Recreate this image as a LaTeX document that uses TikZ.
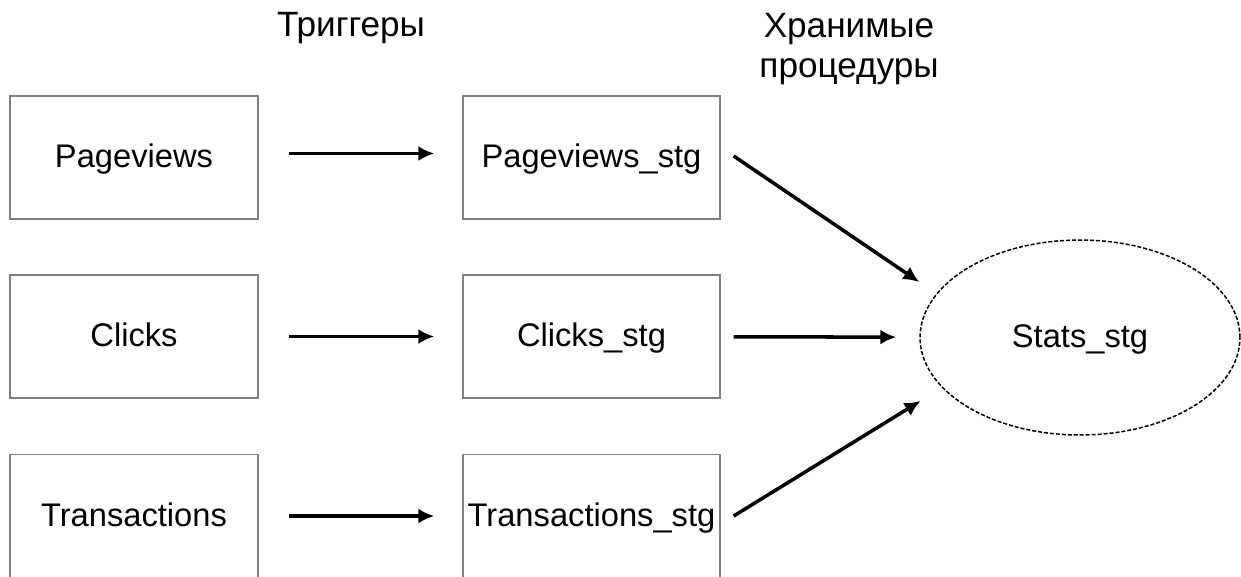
\documentclass[tikz,border=0pt]{standalone}
\usepackage{fontspec}
\setmainfont{Liberation Sans}
\usetikzlibrary{arrows.meta,shapes.geometric}

\begin{document}
\begin{tikzpicture}[x=0.02cm,y=-0.02cm,
  box/.style={draw=gray,line width=0.8pt,rectangle,inner sep=0pt,minimum height=2.46cm,
    text height=14pt,text depth=2.1pt,font=\fontsize{18.6}{22}\selectfont},
  arr/.style={line width=2pt,-{Latex[length=0.32cm,width=0.3cm]}},
  title/.style={font=\fontsize{20}{23}\selectfont,inner sep=0pt,align=center,anchor=north}]
\useasboundingbox (0,0) rectangle (1241,576);

\node [title] (trig) at(351,12){Триггеры};
\node [title] (proc) at(849,13){Хранимые\\процедуры};

\node [box,minimum width=4.96cm] (pv) at(134,157.5){Pageviews};
\node [box,minimum width=5.14cm] (pvstg) at(591.5,157.5){Pageviews\_stg};

\node [box,minimum width=4.96cm] (cl) at(134,336.5){Clicks};
\node [box,minimum width=5.14cm] (clstg) at(591.5,336.5){Clicks\_stg};

\node [box,minimum width=4.96cm] (tr) at(134,516){Transactions};
\node [box,minimum width=5.14cm] (trstg) at(591.5,516){Transactions\_stg};

\node [draw,ellipse,line width=0.85pt,dash pattern=on 2.3pt off 1.1pt,inner sep=0pt,
  minimum width=6.4cm,minimum height=3.9cm,text height=14pt,text depth=2.1pt,
  font=\fontsize{18.6}{22}\selectfont] (stats) at(1080,337.5){Stats\_stg};

\draw[arr,shorten <=0.6cm,shorten >=0.56cm]([yshift=0.08cm]pv.east) -- ([yshift=0.08cm]pvstg.west);
\draw[arr,shorten <=0.6cm,shorten >=0.56cm](cl) -- (clstg);
\draw[arr,shorten <=0.6cm,shorten >=0.56cm](tr) -- (trstg);

\draw[arr,shorten >=0.41cm]([xshift=0.26cm,yshift=0.03cm]pvstg.east) -- (stats.163);
\draw[arr,shorten <=0.26cm,shorten >=0.46cm](clstg) -- (stats);
\draw[arr,shorten >=0.5cm]([xshift=0.26cm]trstg.east) -- (stats.200);
\end{tikzpicture}
\end{document}
